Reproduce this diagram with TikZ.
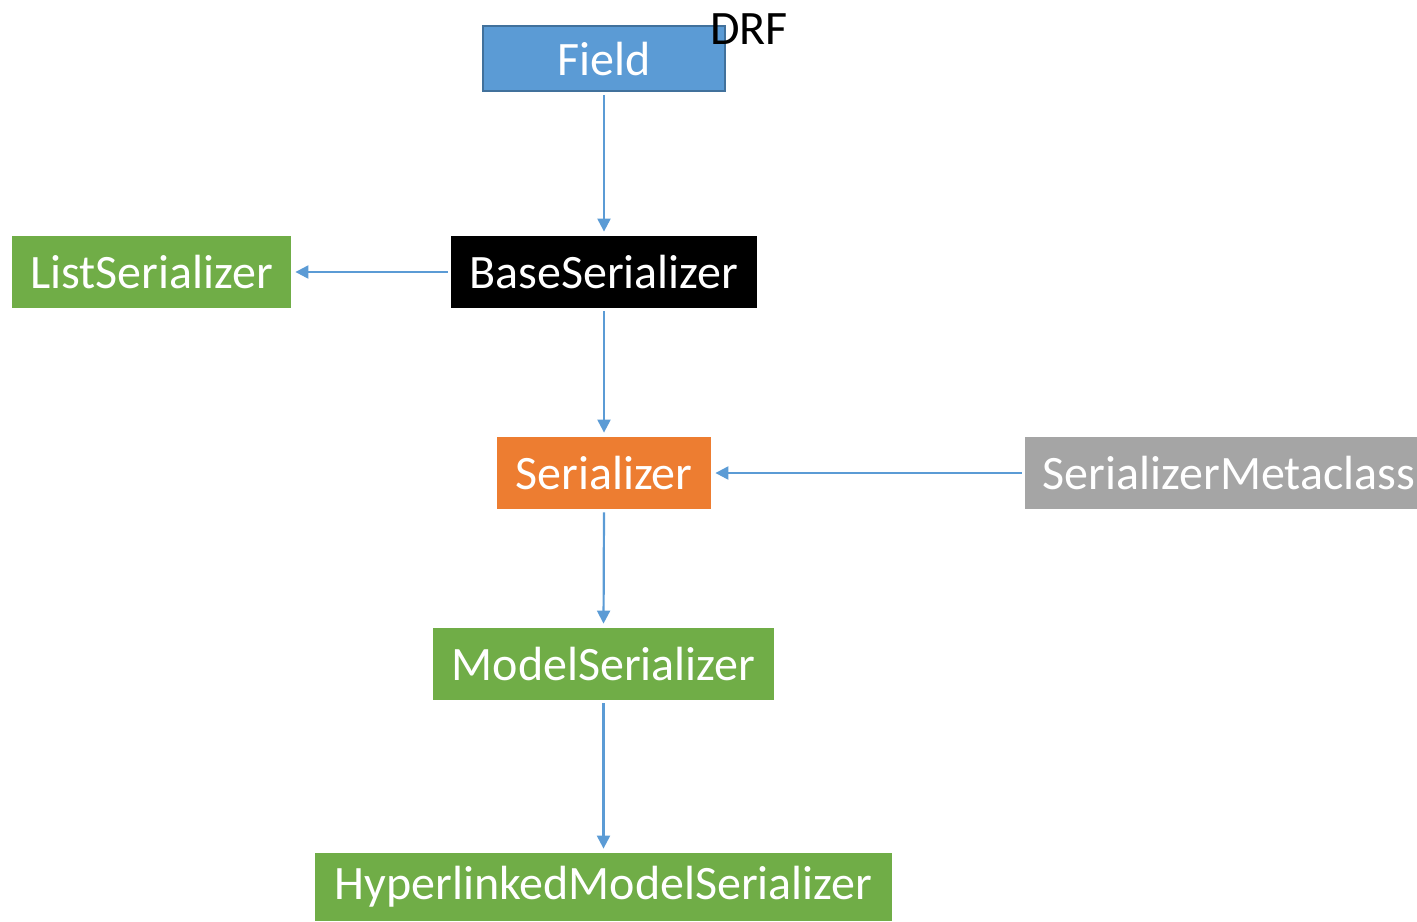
\documentclass[tikz,border=0pt]{standalone}
\usepackage{fontspec}
\setmainfont{Carlito}
\usetikzlibrary{arrows.meta}
\definecolor{cblue}{HTML}{5B9BD5}
\definecolor{cbluedark}{HTML}{41719C}
\definecolor{cgreen}{HTML}{70AD47}
\definecolor{corange}{HTML}{ED7D31}
\definecolor{cgray}{HTML}{A5A5A5}
\tikzset{
  box/.style={rectangle, draw=none, text=white, font=\fontsize{24}{28}\selectfont, inner sep=0pt, anchor=center},
  conn/.style={draw=cblue, line width=1.1pt, -{Triangle[width=6.5pt,length=6.5pt]}, shorten >=2pt, shorten <=1.5pt}
}
\begin{document}
\begin{tikzpicture}[x=0.5pt,y=-0.5pt]
\useasboundingbox (0,0) rectangle (1417,921);
\node[box, fill=cblue, draw=cbluedark, line width=1pt, minimum width=121pt, minimum height=32.5pt] (field) at (604,58.5) {Field};
\node[font=\fontsize{24}{28}\selectfont, inner sep=0pt] (drf) at (749,29) {DRF};
\node[box, fill=cgreen, minimum width=139.5pt, minimum height=36pt] (list) at (151.5,272) {ListSerializer};
\node[box, fill=black, minimum width=153pt, minimum height=36pt] (base) at (604,272) {BaseSerializer};
\node[box, fill=corange, minimum width=107pt, minimum height=36pt] (ser) at (604,473) {Serializer};
\node[box, fill=cgray, minimum width=196pt, minimum height=36pt] (meta) at (1221,473) {\hspace{8pt}SerializerMetaclass};
\node[box, fill=cgreen, minimum width=170.5pt, minimum height=36pt] (model) at (603.5,664) {ModelSerializer};
\node[box, fill=cgreen, minimum width=288.5pt, minimum height=34pt, text depth=4pt] (hyper) at (603.5,887) {HyperlinkedModelSerializer};
\draw[conn] (field.south) -- (base.north);
\draw[conn] (base.west) -- (list.east);
\draw[conn] (base.south) -- (ser.north);
\draw[conn] (meta.west) -- (ser.east);
\draw[conn] (ser.south) -- (model.north);
\draw[conn] (model.south) -- (hyper.north);
\end{tikzpicture}
\end{document}
